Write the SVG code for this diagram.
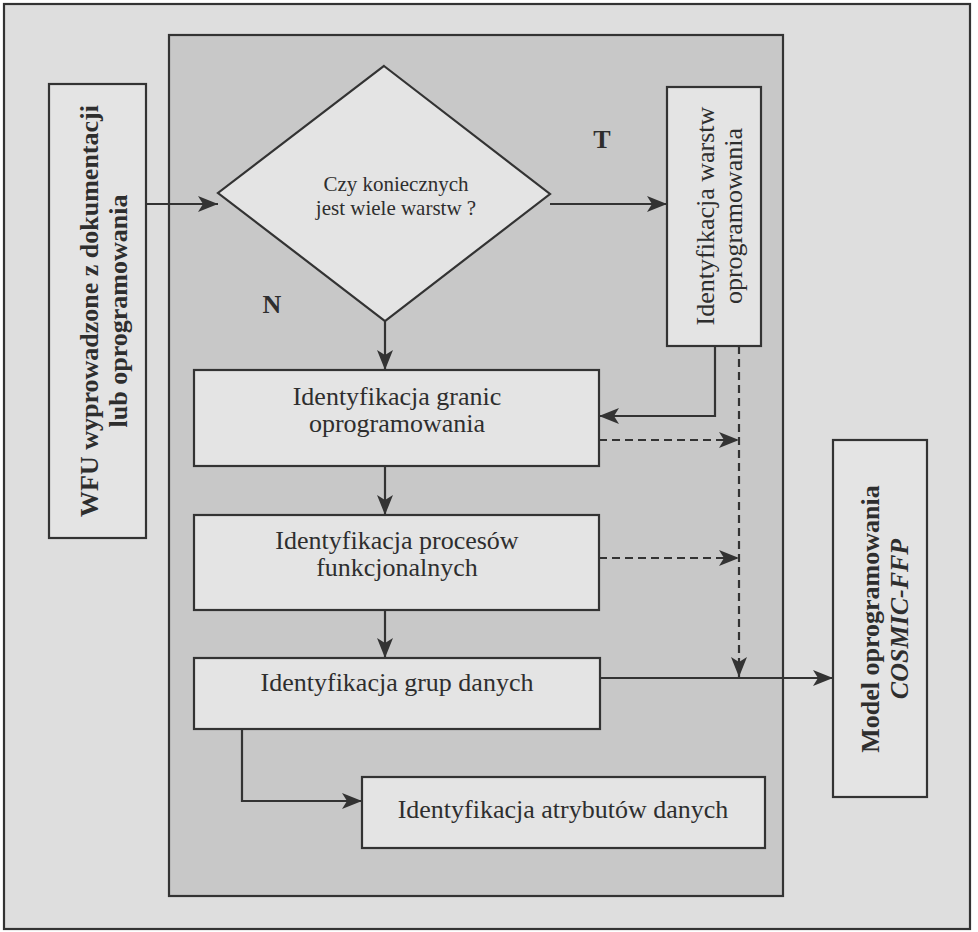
<svg xmlns="http://www.w3.org/2000/svg" width="978" height="932" viewBox="0 0 978 932">
  <style>
    .frame { fill: #dedede; stroke: #333; stroke-width: 2.2; }
    .panel { fill: #c8c8c8; stroke: #333; stroke-width: 2.2; }
    .box { fill: #e4e4e4; stroke: #333; stroke-width: 2.2; }
    .lbl { font-family: "Liberation Serif", "Times New Roman", serif; font-size: 26px; fill: #2e2e2e; text-anchor: middle; }
    .q { font-size: 21px; }
    .b { font-weight: bold; }
    .bi { font-weight: bold; font-style: italic; }
    .flow { fill: none; stroke: #333; stroke-width: 2.2; }
    .dash { stroke-dasharray: 8 5; }
  </style>
  <defs>
    <marker id="arrow" markerUnits="userSpaceOnUse" markerWidth="20" markerHeight="16" viewBox="0 0 20 16" refX="20" refY="8" orient="auto">
      <path d="M0,0 L20,8 L0,16 L5,8 z" fill="#333"/>
    </marker>
  </defs>

  <!-- page frame and shaded process panel -->
  <rect class="frame" x="4" y="4" width="966" height="925"/>
  <rect class="panel" x="169" y="35" width="614" height="861"/>

  <!-- connectors -->
  <g id="connectors">
    <path class="flow" d="M146,204 H218" marker-end="url(#arrow)"/>
    <path class="flow" d="M550,204 H667" marker-end="url(#arrow)"/>
    <path class="flow" d="M385,321 V370" marker-end="url(#arrow)"/>
    <path class="flow" d="M715,346 V416 H599" marker-end="url(#arrow)"/>
    <path class="flow dash" d="M739,346 V677" marker-end="url(#arrow)"/>
    <path class="flow dash" d="M599,440 H739" marker-end="url(#arrow)"/>
    <path class="flow dash" d="M599,558 H739" marker-end="url(#arrow)"/>
    <path class="flow" d="M385,466 V515" marker-end="url(#arrow)"/>
    <path class="flow" d="M385,610 V658" marker-end="url(#arrow)"/>
    <path class="flow" d="M600,678 H833" marker-end="url(#arrow)"/>
    <path class="flow" d="M242,729 V801 H362" marker-end="url(#arrow)"/>
    <text class="lbl b" x="602" y="148" font-size="28">T</text>
    <text class="lbl b" x="272" y="313" font-size="28">N</text>
  </g>

  <!-- input: WFU -->
  <g id="wfu">
    <rect class="box" x="49" y="84" width="97" height="454"/>
    <text class="lbl b" transform="translate(98,311) rotate(-90)">WFU wyprowadzone z dokumentacji</text>
    <text class="lbl b" transform="translate(127,311) rotate(-90)">lub oprogramowania</text>
  </g>

  <!-- decision -->
  <g id="decision">
    <polygon class="box" points="384,66 550,194 385,321 218,193"/>
    <text class="lbl q" x="396" y="191">Czy koniecznych</text>
    <text class="lbl q" x="396" y="215">jest wiele warstw ?</text>
  </g>

  <g id="layers">
    <rect class="box" x="667" y="87" width="94" height="259"/>
    <text class="lbl" transform="translate(714,216) rotate(-90)">Identyfikacja warstw</text>
    <text class="lbl" transform="translate(742,216) rotate(-90)">oprogramowania</text>
  </g>

  <g id="boundary">
    <rect class="box" x="194" y="370" width="405" height="96"/>
    <text class="lbl" x="397" y="405">Identyfikacja granic</text>
    <text class="lbl" x="397" y="432">oprogramowania</text>
  </g>

  <g id="processes">
    <rect class="box" x="194" y="515" width="405" height="95"/>
    <text class="lbl" x="397" y="549">Identyfikacja procesów</text>
    <text class="lbl" x="397" y="576">funkcjonalnych</text>
  </g>

  <g id="groups">
    <rect class="box" x="194" y="658" width="406" height="71"/>
    <text class="lbl" x="397" y="691">Identyfikacja grup danych</text>
  </g>

  <g id="attributes">
    <rect class="box" x="362" y="777" width="403" height="71"/>
    <text class="lbl" x="563" y="818">Identyfikacja atrybutów danych</text>
  </g>

  <g id="model">
    <rect class="box" x="833" y="440" width="94" height="357"/>
    <text class="lbl b" transform="translate(879,619) rotate(-90)">Model oprogramowania</text>
    <text class="lbl bi" transform="translate(908,619) rotate(-90)">COSMIC-FFP</text>
  </g>
</svg>
